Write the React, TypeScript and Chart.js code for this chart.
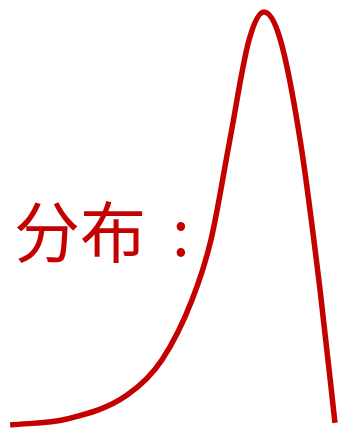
import React, { useEffect, useRef } from "react";
import { Chart, registerables } from "chart.js";

Chart.register(...registerables);

// Skewed distribution curve: horizontal position and relative density
const xs = [0.3, 1.98, 3.76, 4.79, 5.68, 6.24, 6.8, 7.37, 7.81, 8.28, 8.88, 9.47, 9.91];
const density = [0.007, 0.021, 0.077, 0.159, 0.299, 0.439, 0.673, 0.907, 0.972, 0.911, 0.673, 0.322, 0.012];

const labelText = "分布";
const colonText = ":";
const RED = "#c40000";

export default function App() {
  const canvasRef = useRef<HTMLCanvasElement | null>(null);

  useEffect(() => {
    const canvas = canvasRef.current;
    if (!canvas) return;
    const chart = new Chart(canvas, {
      type: "line",
      data: {
        datasets: [
          {
            data: xs.map((x, i) => ({ x, y: density[i] })),
            borderColor: RED,
            borderWidth: 5.5,
            pointRadius: 0,
            fill: false,
            cubicInterpolationMode: "monotone",
            borderCapStyle: "butt",
            borderJoinStyle: "round",
            clip: false,
          },
        ],
      },
      options: {
        animation: false,
        responsive: false,
        maintainAspectRatio: false,
        layout: { padding: 0 },
        plugins: { legend: { display: false }, tooltip: { enabled: false } },
        scales: {
          x: { type: "linear", min: 0, max: 10, display: false },
          y: { type: "linear", min: 0, max: 1, display: false },
        },
      },
    });
    return () => chart.destroy();
  }, []);

  const font = '"Noto Sans CJK SC", sans-serif';
  return (
    <div style={{ position: "fixed", left: 0, top: 0, width: 338, height: 428, background: "#fff" }}>
      <canvas ref={canvasRef} width={338} height={428} style={{ position: "absolute", left: 0, top: 0 }} />
      <span style={{ position: "absolute", left: 14, top: 195, fontFamily: font, fontSize: 66, lineHeight: "66px", color: RED }}>
        {labelText}
      </span>
      <span style={{ position: "absolute", left: 172, top: 195, fontFamily: font, fontSize: 64, lineHeight: "66px", color: RED }}>
        {colonText}
      </span>
    </div>
  );
}
